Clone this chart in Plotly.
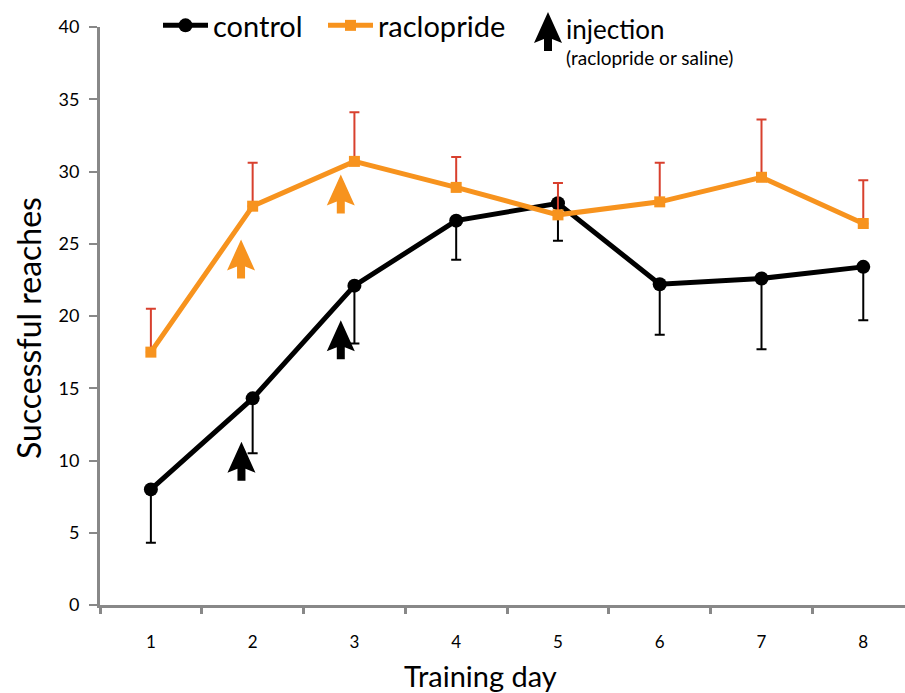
import plotly.graph_objects as go

days = [1, 2, 3, 4, 5, 6, 7, 8]
day_labels = ["1", "2", "3", "4", "5", "6", "7", "8"]
control = [8.0, 14.3, 22.1, 26.6, 27.8, 22.2, 22.6, 23.4]
control_err = [3.7, 3.8, 4.0, 2.7, 2.6, 3.5, 4.9, 3.7]
raclopride = [17.5, 27.6, 30.7, 28.9, 27.0, 27.9, 29.6, 26.4]
raclopride_err = [3.0, 3.0, 3.4, 2.1, 2.2, 2.7, 4.0, 3.0]

# injection arrows (x position, tip value, colour)
arrow_x = [1.886, 2.866, 1.89, 2.866]
arrow_tip = [25.3, 29.8, 11.3, 19.7]
arrow_col = ["#F7931E", "#F7931E", "#000000", "#000000"]

ORANGE = "#F7931E"
ERR_RED = "#D8402E"
GRAY = "#888888"
FONT = "Lato"

ARROW_PATH = "M0,0 L14,-31 L4,-27 L4,-39 L-4,-39 L-4,-27 L-14,-31 Z"

fig = go.Figure()
fig.add_trace(go.Scatter(
    x=days, y=control, name="control", mode="lines+markers",
    line=dict(color="black", width=5),
    marker=dict(symbol="circle", size=14, color="black"),
    error_y=dict(type="data", symmetric=False, array=[0] * 8, arrayminus=control_err,
                 color="black", thickness=2, width=5),
    legend="legend", showlegend=True,
))
fig.add_trace(go.Scatter(
    x=days, y=raclopride, name="raclopride", mode="lines+markers",
    line=dict(color=ORANGE, width=5),
    marker=dict(symbol="square", size=11, color=ORANGE),
    error_y=dict(type="data", symmetric=False, array=raclopride_err, arrayminus=[0] * 8,
                 color=ERR_RED, thickness=2, width=5),
    legend="legend2", showlegend=True,
))

shapes = []
for ax_, ay_, c in zip(arrow_x, arrow_tip, arrow_col):
    shapes.append(dict(type="path", xref="x", yref="y", xsizemode="pixel", ysizemode="pixel",
                       xanchor=ax_, yanchor=ay_, path=ARROW_PATH,
                       fillcolor=c, line=dict(width=0)))
# legend arrow
shapes.append(dict(type="path", xref="paper", yref="paper", xsizemode="pixel", ysizemode="pixel",
                   xanchor=(548 - 100) / 805, yanchor=(605 - 12) / 578, path=ARROW_PATH,
                   fillcolor="black", line=dict(width=0)))

annotations = [
    dict(text="injection", x=(564 - 100) / 805, y=(605 - 29) / 578, xref="paper", yref="paper",
         xanchor="left", yanchor="middle", showarrow=False, font=dict(size=26, color="black", family=FONT)),
    dict(text="(raclopride or saline)", x=(564 - 100) / 805, y=(605 - 57) / 578, xref="paper", yref="paper",
         xanchor="left", yanchor="middle", showarrow=False, font=dict(size=19, color="black", family=FONT)),
    dict(text="Training day", x=(480 - 100) / 805, y=-(675 - 605) / 578, xref="paper", yref="paper",
         xanchor="center", yanchor="middle", showarrow=False, font=dict(size=29, color="black", family=FONT)),
    dict(text="Successful reaches", x=(28 - 100) / 805, y=(605 - 328) / 578, xref="paper", yref="paper",
         xanchor="center", yanchor="middle", textangle=-90, showarrow=False,
         font=dict(size=32, color="black", family=FONT)),
]

fig.update_layout(
    width=905, height=693,
    margin=dict(l=100, r=0, t=27, b=88),
    paper_bgcolor="white", plot_bgcolor="white",
    font=dict(family=FONT, color="black", size=18),
    shapes=shapes, annotations=annotations, showlegend=True,
    legend=dict(x=(158 - 100) / 805, y=(605 - 25) / 578, xanchor="left", yanchor="middle",
                font=dict(size=29, family=FONT), bgcolor="rgba(0,0,0,0)", itemwidth=45),
    legend2=dict(x=(323 - 100) / 805, y=(605 - 25) / 578, xanchor="left", yanchor="middle",
                 font=dict(size=29, family=FONT), bgcolor="rgba(0,0,0,0)", itemwidth=45),
)
fig.update_xaxes(
    range=[0.5, 8.41], tickvals=days, ticktext=day_labels, ticks="",
    showline=True, linecolor=GRAY, linewidth=3, showgrid=False, zeroline=False,
    ticklabelstandoff=20, tickfont=dict(size=17),
    minor=dict(tick0=0.5, dtick=1, ticks="outside", ticklen=6, tickwidth=3, tickcolor=GRAY, showgrid=False),
)
fig.update_yaxes(
    range=[0, 40], dtick=5, ticks="outside", ticklen=8, tickwidth=2, tickcolor=GRAY,
    showline=True, linecolor=GRAY, linewidth=3, showgrid=False, zeroline=False,
    ticklabelstandoff=6, tickfont=dict(size=18),
)

fig.write_html("out.html")
